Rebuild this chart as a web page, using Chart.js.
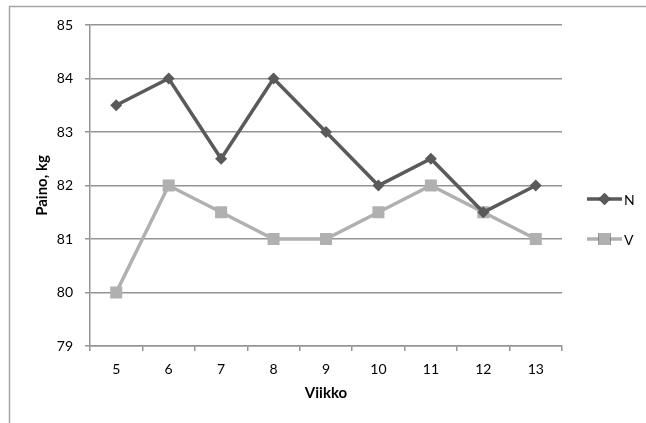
<!DOCTYPE html>
<html>
<head>
<meta charset="utf-8">
<script src="https://cdn.jsdelivr.net/npm/chart.js@4/dist/chart.umd.min.js"></script>
<style>
  html, body { margin: 0; padding: 0; background: #fff; }
  #wrap { position: relative; width: 646px; height: 423px; }
</style>
</head>
<body>
<div id="wrap"><canvas id="c" width="646" height="423"></canvas></div>
<script>
// Weekly weights
const weeks = ['5', '6', '7', '8', '9', '10', '11', '12', '13'];
const seriesN = [83.5, 84, 82.5, 84, 83, 82, 82.5, 81.5, 82];
const seriesV = [80, 82, 81.5, 81, 81, 81.5, 82, 81.5, 81];
const yTicks = [79, 80, 81, 82, 83, 84, 85];

const FONT = 'Lato, "Open Sans", sans-serif';
const GRID = '#949494';

// Outer frame (left and top edges) and the legend at the right
const framePlugin = {
  id: 'frameAndLegend',
  beforeDraw(chart) {
    const ctx = chart.ctx;
    ctx.save();
    ctx.fillStyle = '#fff';
    ctx.fillRect(0, 0, chart.width, chart.height);
    ctx.strokeStyle = '#a6a6a6';
    ctx.lineWidth = 1.5;
    ctx.beginPath();
    ctx.moveTo(9.5, chart.height);
    ctx.lineTo(9.5, 6.5);
    ctx.lineTo(chart.width, 6.5);
    ctx.stroke();
    ctx.restore();
  },
  afterDraw(chart) {
    const ctx = chart.ctx;
    const items = [
      { ds: chart.data.datasets[0], y: 199 },
      { ds: chart.data.datasets[1], y: 239 }
    ];
    ctx.save();
    items.forEach(it => {
      const ds = it.ds;
      ctx.strokeStyle = ds.borderColor;
      ctx.lineWidth = ds.borderWidth;
      ctx.beginPath();
      ctx.moveTo(587, it.y);
      ctx.lineTo(622, it.y);
      ctx.stroke();
      Chart.helpers.drawPoint(ctx, {
        pointStyle: ds.pointStyle,
        radius: ds.pointRadius,
        borderWidth: 0,
        rotation: 0
      }, 604.5, it.y);
      ctx.fillStyle = ds.pointBackgroundColor;
      ctx.fill();
      ctx.fillStyle = '#000';
      ctx.font = '14px ' + FONT;
      ctx.textBaseline = 'middle';
      ctx.textAlign = 'left';
      ctx.fillText(ds.label, 624, it.y + 1);
    });
    ctx.restore();
  }
};

new Chart(document.getElementById('c'), {
  type: 'line',
  data: {
    labels: weeks,
    datasets: [
      {
        label: 'N',
        data: seriesN,
        borderColor: '#5a5a5a',
        backgroundColor: '#5a5a5a',
        pointBackgroundColor: '#5a5a5a',
        pointBorderColor: '#5a5a5a',
        borderWidth: 3.5,
        pointStyle: 'rectRot',
        pointRadius: 6,
        pointBorderWidth: 0,
        tension: 0
      },
      {
        label: 'V',
        data: seriesV,
        borderColor: '#b0b0b0',
        backgroundColor: '#b0b0b0',
        pointBackgroundColor: '#b0b0b0',
        pointBorderColor: '#b0b0b0',
        borderWidth: 3.5,
        pointStyle: 'rect',
        pointRadius: 8.5,
        pointBorderWidth: 0,
        tension: 0
      }
    ]
  },
  options: {
    responsive: false,
    animation: false,
    events: [],
    layout: { padding: { left: 0, right: 84, top: 25, bottom: 0 } },
    plugins: { legend: { display: false }, tooltip: { enabled: false } },
    scales: {
      x: {
        offset: true,
        grid: {
          offset: true,
          drawOnChartArea: false,
          drawTicks: true,
          tickLength: 5,
          color: GRID,
          lineWidth: 1.5
        },
        border: { color: GRID, width: 1.5 },
        ticks: { color: '#000', font: { family: FONT, size: 14 }, padding: 10, maxRotation: 0 },
        title: {
          display: true,
          text: 'Viikko',
          color: '#000',
          font: { family: FONT, size: 15, weight: 'bold' },
          padding: { top: 0, bottom: 21 }
        },
        afterFit(scale) { scale.height = 423 - 346; }
      },
      y: {
        min: 79,
        max: 85,
        afterBuildTicks(scale) { scale.ticks = yTicks.map(v => ({ value: v })); },
        grid: { color: GRID, lineWidth: 1.5, tickLength: 5, drawTicks: true },
        border: { color: GRID, width: 1.5 },
        ticks: { color: '#000', font: { family: FONT, size: 14 }, padding: 12 },
        title: {
          display: true,
          text: 'Paino, kg',
          color: '#000',
          font: { family: FONT, size: 15, weight: 'bold' },
          padding: { top: 33, bottom: 0 }
        },
        afterFit(scale) { scale.width = 90; }
      }
    }
  },
  plugins: [framePlugin]
});
</script>
</body>
</html>
